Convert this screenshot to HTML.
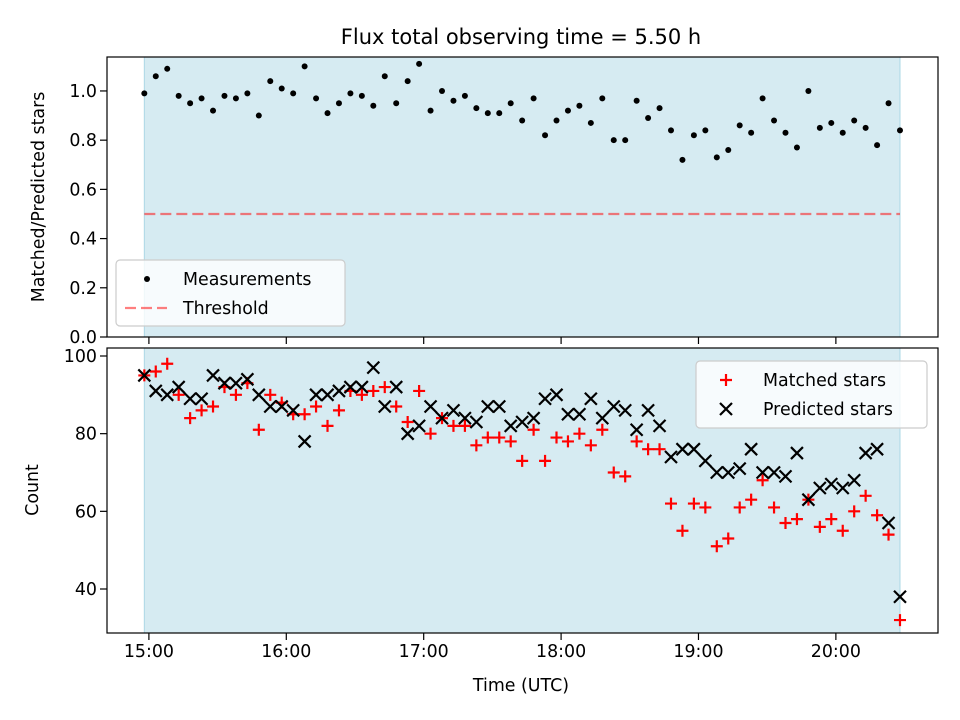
<!DOCTYPE html>
<html><head><meta charset="utf-8"><style>
body{margin:0;background:#fff}
svg{display:block;font-family:"DejaVu Sans","Liberation Sans",sans-serif}
</style></head><body>
<svg id="fig" width="960" height="720" viewBox="0 0 960 720" xmlns="http://www.w3.org/2000/svg">
<rect width="960" height="720" fill="#fff"/>
<text x="521" y="44" font-size="21" text-anchor="middle">Flux total observing time = 5.50 h</text>
<g id="top"></g>
<g id="bot"></g>
<text x="521" y="691" font-size="17.4" text-anchor="middle">Time (UTC)</text>
<text transform="translate(44,197) rotate(-90)" font-size="17.4" text-anchor="middle">Matched/Predicted stars</text>
<text transform="translate(38,490) rotate(-90)" font-size="17.4" text-anchor="middle">Count</text>
</svg>
<script>
// minutes after 15:00 UTC
const times = [-2,3,8,13,18,23,28,33,38,43,48,53,58,63,68,73,78,83,88,93,98,103,108,113,118,123,128,133,138,143,148,153,158,163,168,173,178,183,188,193,198,203,208,213,218,223,228,233,238,243,248,253,258,263,268,273,278,283,288,293,298,303,308,313,318,323,328];
const ratio = [0.99,1.06,1.09,0.98,0.95,0.97,0.92,0.98,0.97,0.99,0.90,1.04,1.01,0.99,1.10,0.97,0.91,0.95,0.99,0.98,0.94,1.06,0.95,1.04,1.11,0.92,1.00,0.96,0.98,0.93,0.91,0.91,0.95,0.88,0.97,0.82,0.88,0.92,0.94,0.87,0.97,0.80,0.80,0.96,0.89,0.93,0.84,0.72,0.82,0.84,0.73,0.76,0.86,0.83,0.97,0.88,0.83,0.77,1.00,0.85,0.87,0.83,0.88,0.85,0.78,0.95,0.84];
const matched = [95,96,98,90,84,86,87,92,90,93,81,90,88,85,85,87,82,86,91,90,91,92,87,83,91,80,84,82,82,77,79,79,78,73,81,73,79,78,80,77,81,70,69,78,76,76,62,55,62,61,51,53,61,63,68,61,57,58,63,56,58,55,60,64,59,54,32];
const predicted = [95,91,90,92,89,89,95,93,93,94,90,87,87,86,78,90,90,91,92,92,97,87,92,80,82,87,84,86,84,83,87,87,82,83,84,89,90,85,85,89,84,87,86,81,86,82,74,76,76,73,70,70,71,76,70,70,69,75,63,66,67,66,68,75,76,57,38];
const threshold = 0.5;
const xTickLabels = ["15:00","16:00","17:00","18:00","19:00","20:00"];
const xTickMinutes = [0,60,120,180,240,300];
const topYTicks = [0.0,0.2,0.4,0.6,0.8,1.0];
const botYTicks = [40,60,80,100];

const NS="http://www.w3.org/2000/svg";
const L=107,R=938;
const X0=-18.3,X1=344.6;
const sx=m=>L+(m-X0)/(X1-X0)*(R-L);
function mk(p,tag,a){const e=document.createElementNS(NS,tag);for(const k in a)e.setAttribute(k,a[k]);p.appendChild(e);return e;}

function panel(g,T,B,y0,y1,yticks,fmt,withLabels){
  const sy=v=>B-(v-y0)/(y1-y0)*(B-T);
  const sh=mk(g,'rect',{x:sx(times[0]),y:T,width:sx(times[times.length-1])-sx(times[0]),height:B-T,fill:'#add8e6','fill-opacity':0.5,stroke:'#add8e6','stroke-width':1});
  
  
  xTickMinutes.forEach((m,i)=>{
    const t=mk(g,'line',{x1:sx(m),x2:sx(m),y1:B,y2:B+7,stroke:'#000','stroke-width':1.2});
    
    
    if(withLabels){
      const tx=mk(g,'text',{x:sx(m),y:B+24,'font-size':17.4,'text-anchor':'middle'});
      tx.textContent=xTickLabels[i];
      
      
    }
  });
  yticks.forEach(v=>{
    const t=mk(g,'line',{x1:L-7,x2:L,y1:sy(v),y2:sy(v),stroke:'#000','stroke-width':1.2});
    
    
    const tx=mk(g,'text',{x:L-10,y:sy(v)+6,'font-size':17.4,'text-anchor':'end'});
    tx.textContent=fmt(v);
    
    
  });
  return sy;
}
function frame(g,T,B){
  const f=mk(g,'rect',{x:L,y:T,width:R-L,height:B-T,fill:'none',stroke:'#000','stroke-width':1.2});
  
  
}

// Top panel
const gt=document.getElementById('top');
const syT=panel(gt,57,337,0,1.138,topYTicks,v=>v.toFixed(1),false);
const th=mk(gt,'line',{x1:sx(times[0]),x2:sx(times[times.length-1]),y1:syT(threshold),y2:syT(threshold),stroke:'#ff0000','stroke-opacity':0.5,'stroke-width':2.2,'stroke-dasharray':'11,5'});


ratio.forEach((v,i)=>{
  const c=mk(gt,'circle',{cx:sx(times[i]),cy:syT(v),r:3,fill:'#000'});
  
  
});
frame(gt,57,337);
{
  const lg=mk(gt,'g',{});
  
  
  mk(lg,'rect',{x:116,y:260,width:229,height:66,rx:4,fill:'#fff','fill-opacity':0.8,stroke:'#ccc','stroke-width':1.2});
  mk(lg,'circle',{cx:147,cy:279,r:3,fill:'#000'});
  const t1=mk(lg,'text',{x:183,y:285,'font-size':17.4});t1.textContent='Measurements';
  
  
  mk(lg,'line',{x1:125,x2:167,y1:308,y2:308,stroke:'#ff0000','stroke-opacity':0.5,'stroke-width':2.2,'stroke-dasharray':'11,5'});
  const t2=mk(lg,'text',{x:183,y:314,'font-size':17.4});t2.textContent='Threshold';
  
  
}

// Bottom panel
const gb=document.getElementById('bot');
const syB=panel(gb,348,633,28.67,102.06,botYTicks,v=>String(v),true);
function plus(g,x,y){return mk(g,'path',{d:`M${x-6},${y}H${x+6}M${x},${y-6}V${y+6}`,stroke:'#ff0000','stroke-width':2.2,fill:'none'});}
function cross(g,x,y){return mk(g,'path',{d:`M${x-6},${y-6}L${x+6},${y+6}M${x-6},${y+6}L${x+6},${y-6}`,stroke:'#000','stroke-width':2.2,fill:'none'});}
matched.forEach((v,i)=>{
  const p=plus(gb,sx(times[i]),syB(v));
  
  
});
predicted.forEach((v,i)=>{
  const p=cross(gb,sx(times[i]),syB(v));
  
  
});
frame(gb,348,633);
{
  const lg=mk(gb,'g',{});
  
  
  mk(lg,'rect',{x:696,y:361,width:231,height:67,rx:4,fill:'#fff','fill-opacity':0.8,stroke:'#ccc','stroke-width':1.2});
  plus(lg,726,380);
  const t1=mk(lg,'text',{x:763,y:386,'font-size':17.4});t1.textContent='Matched stars';
  
  
  cross(lg,726,409);
  const t2=mk(lg,'text',{x:763,y:415,'font-size':17.4});t2.textContent='Predicted stars';
  
  
}
</script>
</body></html>
